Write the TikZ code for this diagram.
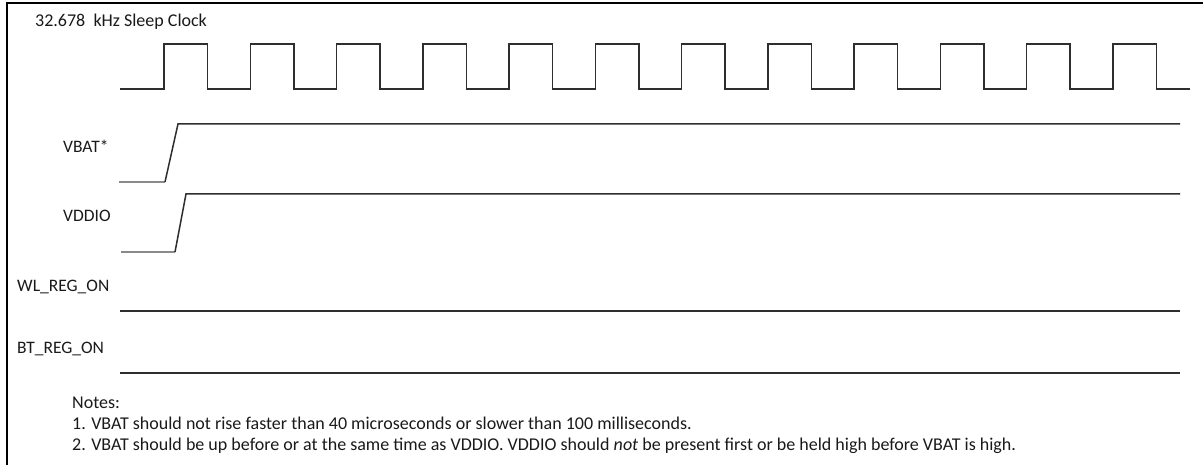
\documentclass[tikz,border=0pt]{standalone}
\usepackage{fontspec}
\setmainfont{Carlito}
\definecolor{sig}{HTML}{2E2E2E}
\definecolor{lowsig}{HTML}{8A8A8A}
\definecolor{txt}{HTML}{1A1A1A}
\begin{document}
\begin{tikzpicture}[x=1pt,y=-1pt,
  wave/.style={draw=sig,line width=1.5pt,line join=miter},
  lowwave/.style={draw=lowsig,line width=1.5pt},
  lbl/.style={anchor=base west,inner sep=0pt,text=txt,font=\fontsize{17.5}{20}\selectfont},
  note/.style={anchor=base west,inner sep=0pt,text=txt,font=\fontsize{18}{20}\selectfont}]
\useasboundingbox (0,0) rectangle (1203,465);
\fill[white] (0,0) rectangle (1203,465);
% frame (top and left edges)
\draw[line width=1.4pt,black] (7,465) -- (7,3) -- (1203,3);
% labels
\node[note] (clk) at (35,27) {32.678\ \ kHz Sleep Clock};
\node[lbl] (vbat) at (63,153) {VBAT*};
\node[lbl] (vddio) at (63,222) {VDDIO};
\node[lbl] (wl) at (17,292) {WL\_REG\_ON};
\node[lbl] (bt) at (17,353) {BT\_REG\_ON};
\node[note] (n0) at (72,408) {Notes:};
\node[note] (n1) at (72,429) {1. VBAT should not rise faster than 40 microseconds or slower than 100 milliseconds.};
\node[note] (n2) at (72,450) {2. VBAT should be up before or at the same time as VDDIO. VDDIO should \textit{not} be present first or be held high before VBAT is high.};
% clock
\draw[wave] (120,89)
  \foreach \i in {0,...,11} {
    -- ({164+86.27*\i},89) -- ({164+86.27*\i},44) -- ({207.5+86.27*\i},44) -- ({207.5+86.27*\i},89)
  } -- (1190,89);
% VBAT
\draw[lowwave] (119,182) -- (165,182);
\draw[wave] (165,182) -- (178,124) -- (1180,124);
% VDDIO
\draw[lowwave] (121,252) -- (175,252);
\draw[wave] (175,252) -- (186,194) -- (1180,194);
% WL_REG_ON, BT_REG_ON
\draw[wave] (120,311) -- (1180,311);
\draw[wave] (120,373) -- (1180,373);
\end{tikzpicture}
\end{document}
